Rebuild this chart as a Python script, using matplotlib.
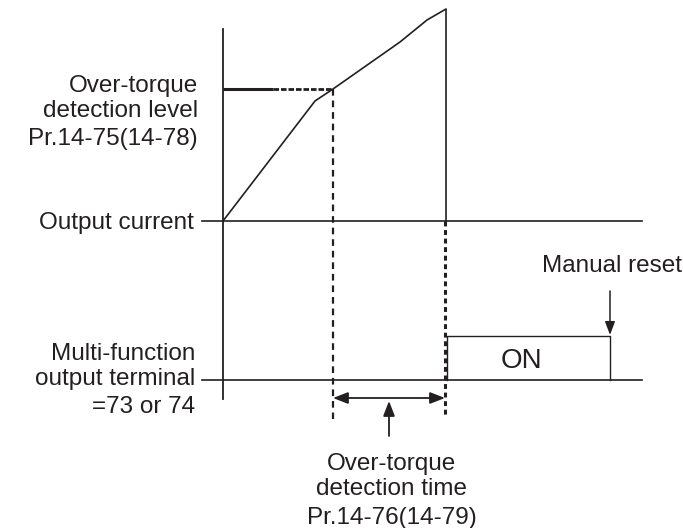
import matplotlib
matplotlib.use("Agg")
import matplotlib.pyplot as plt

plt.rcParams['font.family'] = ['Liberation Sans', 'DejaVu Sans']

# --- diagram data (pixel-like units, y downward) ---
curve_t = [223, 315, 333, 400, 427, 446, 446]
curve_i = [221, 101, 89, 42, 20, 9, 221]
level_y = 89
t_detect_start = 333
t_detect_end = 445
base_current = 221
base_terminal = 380
on_top = 336
on_start = 447
on_end = 610
axis_x = 223

level_lines = ["Over-torque", "detection level", "Pr.14-75(14-78)"]
level_baselines = [92, 117, 145]
current_label = "Output current"
terminal_lines = ["Multi-function", "output terminal", "=73 or 74"]
terminal_baselines = [360, 385, 413]
time_lines = ["Over-torque", "detection time", "Pr.14-76(14-79)"]
time_baselines = [470, 495, 524]
reset_label = "Manual reset"
on_label = "ON"

fig = plt.figure(figsize=(6.83, 5.28), dpi=100)
ax = fig.add_axes([0, 0, 1, 1])
ax.set_xlim(0, 683)
ax.set_ylim(528, 0)
ax.axis('off')

k = '#231f20'
# vertical axis
ax.plot([axis_x, axis_x], [29, 399], color=k, lw=1.3)
# horizontal baselines
ax.plot([202, 642], [base_current, base_current], color=k, lw=1.2)
ax.plot([202, 642], [base_terminal, base_terminal], color=k, lw=1.2)
# current curve
ax.plot(curve_t, curve_i, color=k, lw=1.2)
# detection level line
ax.plot([axis_x, 273], [level_y, level_y], color=k, lw=2.2, solid_capstyle='butt')
ax.plot([273, t_detect_start], [level_y, level_y], color=k, lw=2.0, ls=(0, (2, 0.7)))
# dashed verticals
ax.plot([t_detect_start, t_detect_start], [level_y, 419], color=k, lw=1.6, ls=(0, (3, 2.2)))
ax.plot([t_detect_end, t_detect_end], [base_current, 417], color=k, lw=2.2, ls=(0, (1.6, 1.2)))
# ON pulse
ax.plot([on_start, on_start, on_end, on_end], [base_terminal, on_top, on_top, base_terminal],
        color=k, lw=1.0)
ax.text(521, 368, on_label, ha='center', va='baseline', fontsize=20, color=k)
# double arrow for detection time
ax.annotate('', xy=(t_detect_end, 398), xytext=(t_detect_start, 398),
            arrowprops=dict(arrowstyle='<|-|>,head_length=0.9,head_width=0.35', color=k, lw=1.3,
                            shrinkA=0, shrinkB=0))
# up arrow
ax.annotate('', xy=(389, 401), xytext=(389, 436),
            arrowprops=dict(arrowstyle='-|>,head_length=0.9,head_width=0.35', color=k, lw=1.3,
                            shrinkA=0, shrinkB=0))
# manual reset arrow
ax.annotate('', xy=(on_end, 335), xytext=(on_end, 291),
            arrowprops=dict(arrowstyle='-|>,head_length=0.8,head_width=0.3', color=k, lw=1.1,
                            shrinkA=0, shrinkB=0))

fs = 17.5
for s, b in zip(level_lines, level_baselines):
    ax.text(198, b, s, ha='right', va='baseline', fontsize=fs, color=k)
ax.text(194, 229, current_label, ha='right', va='baseline', fontsize=fs, color=k)
for s, b in zip(terminal_lines, terminal_baselines):
    ax.text(195, b, s, ha='right', va='baseline', fontsize=fs, color=k)
for s, b in zip(time_lines, time_baselines):
    ax.text(392, b, s, ha='center', va='baseline', fontsize=fs, color=k)
ax.text(682, 272, reset_label, ha='right', va='baseline', fontsize=fs, color=k)

fig.savefig('out.png', dpi=100)
